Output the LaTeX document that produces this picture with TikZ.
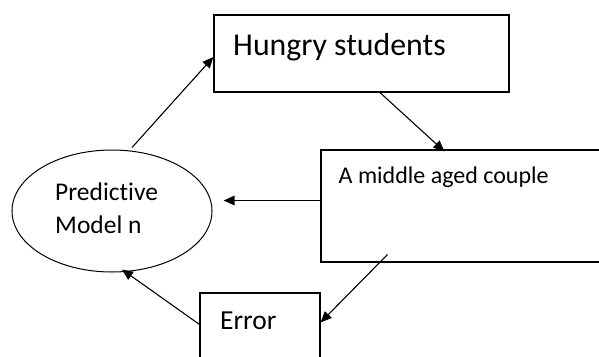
\documentclass[tikz,border=0pt]{standalone}
\usepackage{fontspec}
\setmainfont{Carlito}[Ligatures={CommonOff,RareOff}]
\usetikzlibrary{arrows.meta,calc,shapes.geometric}

\tikzset{
  box/.style={draw, line width=1.2pt, rectangle, inner sep=0pt},
  oval/.style={draw, line width=1pt, ellipse, inner sep=0pt,
               minimum width=200pt, minimum height=122pt},
  label/.style={anchor=base west, inner sep=0pt, text=black},
  flow/.style={draw, line width=1.1pt,
               -{Triangle[length=11pt,width=9.5pt]}}
}

\begin{document}
\begin{tikzpicture}[x=1pt,y=-1pt]
  \clip (0,0) rectangle (599,356);
  \fill[white] (0,0) rectangle (599,356);

  % boxes and the oval
  \node[box, minimum width=295pt, minimum height=77pt] (hungry) at (361.5,53.5) {};
  \node[box, minimum width=319pt, minimum height=112pt] (couple) at (480.5,206) {};
  \node[box, minimum width=120pt, minimum height=107pt] (err) at (260,346.5) {};
  \node[oval] (ell) at (112,211) {};

  % texts
  \node[label, font=\fontsize{31.8}{36}\selectfont] (hungrytxt) at (233,55) {Hungry students};
  \node[label, font=\fontsize{24}{28}\selectfont] (coupletxt) at (338.5,183.3) {A middle aged couple};
  \node[label, font=\fontsize{27.5}{32}\selectfont] (errtxt) at (220,329.3) {Error};
  \node[label, font=\fontsize{25.5}{30}\selectfont] (predtxt) at (55,200.7) {Predictive};
  \node[label, font=\fontsize{25.5}{30}\selectfont] (modeltxt) at (55,233.3) {Model n};

  % connectors
  \draw[flow, shorten <=4pt] (ell.74) -- ($(hungry.west)+(0,3.5)$);
  \draw[flow] ($(hungry.south)+(18.5,0)$) -- ($(couple.north west)+(124,2)$);
  \draw[flow] ($(couple.west)+(0,-5.5)$) -- ($(ell.east)+(11,-10.5)$);
  \draw[flow] ($(couple.south west)+(67,-8)$) -- ($(err.north east)+(0,30)$);
  \draw[flow] ($(err.north west)+(0,32)$) -- ($(ell.south)+(10,-3)$);
\end{tikzpicture}
\end{document}
